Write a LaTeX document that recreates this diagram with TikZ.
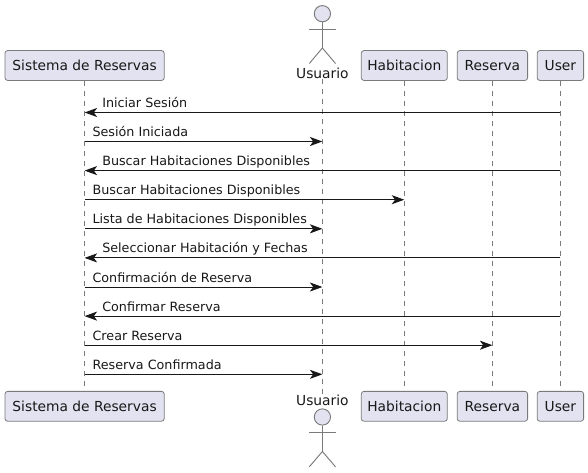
\documentclass[tikz,border=0pt]{standalone}
\usepackage{fontspec}
\setmainfont{DejaVu Sans}
\usetikzlibrary{arrows.meta}
\definecolor{boxfill}{HTML}{E2E2F0}
\definecolor{inkdark}{HTML}{181818}
\definecolor{inkgray}{HTML}{7A7A7A}
\tikzset{
  partbox/.style={draw=inkgray,fill=boxfill,rounded corners=2pt,line width=0.6pt,minimum height=22.4pt,inner sep=0pt,text=inkdark,font=\fontsize{10.35}{12}\selectfont},
  lifeline/.style={draw=inkgray,line width=0.5pt,dash pattern=on 3.75pt off 3.75pt},
  msg/.style={draw=inkdark,line width=0.7pt,-{Stealth[length=9.4pt,width=6.8pt,inset=2.5pt]}},
  msgtext/.style={anchor=base west,inner sep=0pt,text=inkdark,font=\fontsize{9.55}{12}\selectfont},
  actorhead/.style={draw=inkgray,fill=boxfill,circle,line width=0.7pt,minimum size=12.2pt,inner sep=0pt},
  actorline/.style={draw=inkgray,line width=0.7pt},
  actorname/.style={inner sep=0pt,text=inkdark,font=\fontsize{10.35}{12}\selectfont}
}
\begin{document}
\begin{tikzpicture}[x=0.75pt,y=-0.75pt]
\useasboundingbox (0,0) rectangle (588,472);

% top row
\node[partbox,minimum width=119.4pt] (sisT) at (84.6,65.5) {Sistema de Reservas};
\node[partbox,minimum width=64.5pt] (habT) at (404.3,65.5) {Habitacion};
\node[partbox,minimum width=52.8pt] (resT) at (492.4,65.5) {Reserva};
\node[partbox,minimum width=34.8pt] (userT) at (560.4,65.5) {User};
\node[actorname] (usuT) at (322.4,73) {Usuario};

% bottom row
\node[partbox,minimum width=119.4pt] (sisB) at (84.6,406.3) {Sistema de Reservas};
\node[partbox,minimum width=64.5pt] (habB) at (404.3,406.3) {Habitacion};
\node[partbox,minimum width=52.8pt] (resB) at (492.4,406.3) {Reserva};
\node[partbox,minimum width=34.8pt] (userB) at (560.4,406.3) {User};
\node[actorname] (usuB) at (322.4,400) {Usuario};

% actor top
\node[actorhead] (headT) at (322.4,13.7) {};
\coordinate (hipT) at (322.4,48);
\draw[actorline] (headT) -- (hipT);
\draw[actorline] (309.3,29) -- (335.5,29);
\draw[actorline] (309.3,63.5) -- (hipT) -- (335.5,63.5);

% actor bottom
\node[actorhead] (headB) at (322.4,417) {};
\coordinate (hipB) at (322.4,451.5);
\draw[actorline] (headB) -- (hipB);
\draw[actorline] (309.3,432.3) -- (335.5,432.3);
\draw[actorline] (309.3,466.8) -- (hipB) -- (335.5,466.8);

% lifelines
\draw[lifeline] (sisT) -- (sisB);
\draw[lifeline] (usuT) -- (usuB);
\draw[lifeline] (habT) -- (habB);
\draw[lifeline] (resT) -- (resB);
\draw[lifeline] (userT) -- (userB);

% messages
\draw[msg] (userT |- 0,112.5) -- (sisT |- 0,112.5);
\node[msgtext] (m1) at (102,107.5) {Iniciar Sesión};
\draw[msg] (sisT |- 0,141.5) -- (usuT |- 0,141.5);
\node[msgtext] (m2) at (92.3,136.5) {Sesión Iniciada};
\draw[msg] (userT |- 0,170.6) -- (sisT |- 0,170.6);
\node[msgtext] (m3) at (102,165.6) {Buscar Habitaciones Disponibles};
\draw[msg] (sisT |- 0,199.7) -- (habT |- 0,199.7);
\node[msgtext] (m4) at (92.3,194.7) {Buscar Habitaciones Disponibles};
\draw[msg] (sisT |- 0,228.8) -- (usuT |- 0,228.8);
\node[msgtext] (m5) at (92.3,223.8) {Lista de Habitaciones Disponibles};
\draw[msg] (userT |- 0,257.9) -- (sisT |- 0,257.9);
\node[msgtext] (m6) at (102,252.9) {Seleccionar Habitación y Fechas};
\draw[msg] (sisT |- 0,287) -- (usuT |- 0,287);
\node[msgtext] (m7) at (92.3,282) {Confirmación de Reserva};
\draw[msg] (userT |- 0,316.1) -- (sisT |- 0,316.1);
\node[msgtext] (m8) at (102,311.1) {Confirmar Reserva};
\draw[msg] (sisT |- 0,345.2) -- (resT |- 0,345.2);
\node[msgtext] (m9) at (92.3,340.2) {Crear Reserva};
\draw[msg] (sisT |- 0,374.3) -- (usuT |- 0,374.3);
\node[msgtext] (m10) at (92.3,369.5) {Reserva Confirmada};
\end{tikzpicture}
\end{document}
